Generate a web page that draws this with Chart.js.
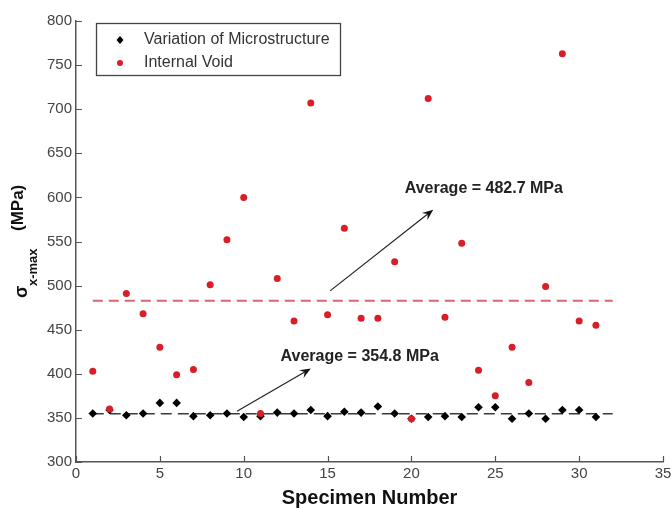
<!DOCTYPE html>
<html><head><meta charset="utf-8">
<script src="https://cdn.jsdelivr.net/npm/chart.js@4.4.1/dist/chart.umd.min.js"></script>
<style>html,body{margin:0;padding:0;background:#fff;}#wrap{width:671px;height:508px;}</style>
</head><body><div id="wrap"><canvas id="c" width="671" height="508"></canvas></div>
<script>
// ---- data ----
const specimens = [1,2,3,4,5,6,7,8,9,10,11,12,13,14,15,16,17,18,19,20,21,22,23,24,25,26,27,28,29,30,31];
const microstructure = [355,359,353,355,367,367,352,353,355,351,352,356,355,359,352,357,356,363,355,349,351,352,351,362,362,349,355,349,359,359,351];
const internalVoid = [403,360,491,468,430,399,405,501,552,600,355,508,460,707,467,565,463,463,527,349,712,464,548,404,375,430,390,499,763,460,455];
const seriesNames = ['Variation of Microstructure', 'Internal Void'];
const averageValues = [354.8, 482.7];
const averageLabels = ['Average = 354.8 MPa', 'Average = 482.7 MPa'];
const averageSpan = [1, 32];
const xTicks = [0,5,10,15,20,25,30,35];
const yTicks = [300,350,400,450,500,550,600,650,700,750,800];

// ---- styling / annotation placement (data coordinates) ----
const annot = [
  {text: averageLabels[0], tx: 12.2, ty: 419.5, from: [9.6, 357.5], to: [14.0, 406]},
  {text: averageLabels[1], tx: 19.6, ty: 610.5, from: [15.15, 494], to: [21.3, 586]}
];
const RED = '#d81e26';
const FONT = '"Liberation Sans", Arial, sans-serif';

const toPts = (xs, ys) => xs.map((x, i) => ({x: x, y: ys[i]}));

const inwardTicks = {
  id: 'inwardTicks',
  afterDatasetsDraw(chart) {
    const {ctx, chartArea: a, scales: {x, y}} = chart;
    ctx.save();
    ctx.strokeStyle = '#555'; ctx.lineWidth = 1.2;
    ctx.beginPath();
    xTicks.forEach(v => { const p = Math.round(x.getPixelForValue(v)) + 0.5; ctx.moveTo(p, a.bottom); ctx.lineTo(p, a.bottom - 6); });
    yTicks.forEach(v => { const p = Math.round(y.getPixelForValue(v)) + 0.5; ctx.moveTo(a.left, p); ctx.lineTo(a.left + 6, p); });
    ctx.stroke();
    ctx.restore();
  }
};

const annotations = {
  id: 'annotations',
  afterDatasetsDraw(chart) {
    const {ctx, scales: {x, y}} = chart;
    ctx.save();
    annot.forEach(a => {
      const x1 = x.getPixelForValue(a.from[0]), y1 = y.getPixelForValue(a.from[1]);
      const x2 = x.getPixelForValue(a.to[0]), y2 = y.getPixelForValue(a.to[1]);
      const ang = Math.atan2(y2 - y1, x2 - x1);
      const L = 11, W = 4.5, back = 7;
      ctx.strokeStyle = '#222'; ctx.lineWidth = 1.2;
      ctx.beginPath(); ctx.moveTo(x1, y1);
      ctx.lineTo(x2 - back * Math.cos(ang), y2 - back * Math.sin(ang)); ctx.stroke();
      const bx = x2 - L * Math.cos(ang), by = y2 - L * Math.sin(ang);
      const nx = x2 - back * Math.cos(ang), ny = y2 - back * Math.sin(ang);
      ctx.fillStyle = '#111';
      ctx.beginPath();
      ctx.moveTo(x2, y2);
      ctx.lineTo(bx - W * Math.sin(ang), by + W * Math.cos(ang));
      ctx.lineTo(nx, ny);
      ctx.lineTo(bx + W * Math.sin(ang), by - W * Math.cos(ang));
      ctx.closePath(); ctx.fill();
      ctx.font = 'bold 16px ' + FONT;
      ctx.fillStyle = '#222'; ctx.textAlign = 'left'; ctx.textBaseline = 'middle';
      ctx.fillText(a.text, x.getPixelForValue(a.tx), y.getPixelForValue(a.ty));
    });
    ctx.restore();
  }
};

const boxLegend = {
  id: 'boxLegend',
  afterDraw(chart) {
    const {ctx, chartArea: a} = chart;
    const L = a.left + 20, T = a.top + 2, W = 244, H = 52;
    ctx.save();
    ctx.fillStyle = '#fff'; ctx.fillRect(L, T, W, H);
    ctx.strokeStyle = '#444'; ctx.lineWidth = 1.3; ctx.strokeRect(L + 0.5, T + 0.5, W, H);
    const rows = [T + 17, T + 40];
    const dx = L + 24;
    ctx.fillStyle = '#000';
    ctx.beginPath();
    ctx.moveTo(dx, rows[0] - 4); ctx.lineTo(dx + 3.5, rows[0]); ctx.lineTo(dx, rows[0] + 4); ctx.lineTo(dx - 3.5, rows[0]);
    ctx.closePath(); ctx.fill();
    ctx.fillStyle = RED;
    ctx.beginPath(); ctx.arc(dx, rows[1], 3, 0, Math.PI * 2); ctx.fill();
    ctx.font = '16px ' + FONT; ctx.fillStyle = '#333';
    ctx.textAlign = 'left'; ctx.textBaseline = 'middle';
    ctx.fillText(seriesNames[0], L + 48, rows[0]);
    ctx.fillText(seriesNames[1], L + 48, rows[1]);
    ctx.restore();
  }
};

const yTitle = {
  id: 'yTitle',
  afterDraw(chart) {
    const ctx = chart.ctx;
    ctx.save();
    ctx.rotate(-Math.PI / 2);
    ctx.fillStyle = '#111'; ctx.textAlign = 'left'; ctx.textBaseline = 'alphabetic';
    ctx.font = 'bold 18px ' + FONT;
    ctx.fillText('σ', -298, 27);
    ctx.font = 'bold 13px ' + FONT;
    ctx.fillText('x-max', -286, 37);
    ctx.font = 'bold 17px ' + FONT;
    ctx.fillText('(MPa)', -231, 23);
    ctx.restore();
  }
};

new Chart(document.getElementById('c'), {
  type: 'scatter',
  data: {
    datasets: [
      {label: seriesNames[1], data: toPts(specimens, internalVoid), pointStyle: 'circle', pointRadius: 3.5,
       backgroundColor: RED, borderColor: RED, borderWidth: 0, order: 0},
      {label: seriesNames[0], data: toPts(specimens, microstructure), pointStyle: 'rectRot', pointRadius: 4.3,
       backgroundColor: '#000', borderColor: '#000', borderWidth: 0, order: 1},
      {label: averageLabels[1], data: averageSpan.map(v => ({x: v, y: averageValues[1]})), showLine: true,
       pointRadius: 0, borderColor: '#d9676a', borderWidth: 2, borderDash: [10, 6], order: 2},
      {label: averageLabels[0], data: averageSpan.map(v => ({x: v, y: averageValues[0]})), showLine: true,
       pointRadius: 0, borderColor: '#3a3a3a', borderWidth: 1.5, borderDash: [11, 6], order: 2}
    ]
  },
  options: {
    responsive: false, animation: false, devicePixelRatio: 1,
    layout: {padding: {left: 0, right: 8, top: 21, bottom: 0}},
    plugins: {legend: {display: false}, tooltip: {enabled: false}},
    scales: {
      x: {
        type: 'linear', min: 0, max: 35,
        afterBuildTicks: s => { s.ticks = xTicks.map(v => ({value: v})); },
        ticks: {font: {size: 15, family: FONT}, color: '#444', padding: 3, maxRotation: 0},
        grid: {display: false, drawTicks: false, tickLength: 0},
        border: {display: true, color: '#555', width: 1.5},
        title: {display: true, text: 'Specimen Number', font: {size: 20, weight: 'bold', family: FONT, lineHeight: 1}, color: '#111', padding: 0},
        afterFit: s => { s.height = 46; s.paddingLeft = 0; s.paddingRight = 0; }
      },
      y: {
        type: 'linear', min: 300, max: 800,
        afterBuildTicks: s => { s.ticks = yTicks.map(v => ({value: v})); },
        ticks: {font: {size: 15, family: FONT}, color: '#444', padding: 4},
        grid: {display: false, drawTicks: false, tickLength: 0},
        border: {display: true, color: '#555', width: 1.5},
        afterFit: s => { s.width = 76; s.paddingTop = 0; s.paddingBottom = 0; }
      }
    }
  },
  plugins: [inwardTicks, annotations, boxLegend, yTitle]
});
</script></body></html>
